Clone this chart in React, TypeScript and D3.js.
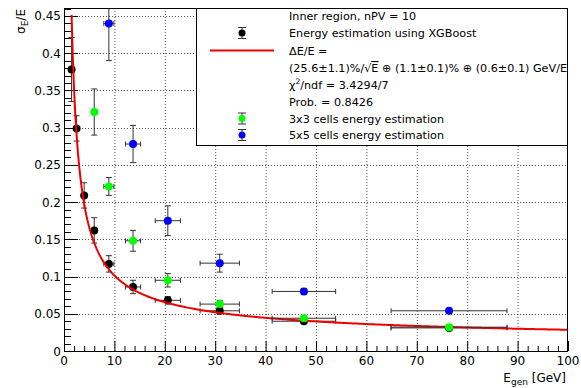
import React from 'react';
import * as d3 from 'd3';

// generated energy points (GeV) and their spread
const energies = [1.5, 2.5, 4, 6, 8.9, 13.7, 20.6, 30.9, 47.6, 76.4];
const energyErr = [0.15, 0.25, 0.4, 0.6, 1.0, 1.5, 2.5, 3.9, 6.3, 11.5];

// XGBoost energy resolution (black)
const resXgb = [0.378, 0.299, 0.209, 0.162, 0.117, 0.086, 0.068, 0.054, 0.040, 0.031];
const errXgb = [0.043, 0.017, 0.017, 0.017, 0.011, 0.009, 0.005, 0.004, 0.003, 0.002];

// 3x3 cells (green), starting at the 4th energy point
const res3x3 = [0.321, 0.221, 0.148, 0.095, 0.063, 0.044, 0.032];
const err3x3 = [0.031, 0.012, 0.014, 0.009, 0.005, 0.003, 0.002];

// 5x5 cells (blue), starting at the 5th energy point
const res5x5 = [0.44, 0.278, 0.175, 0.118, 0.080, 0.054];
const err5x5 = [0.05, 0.025, 0.02, 0.012, 0.004, 0.003];

// fit parameters: stochastic, constant, noise
const fitA = 0.256;
const fitB = 0.011;
const fitC = 0.6;

const xTicks = [0, 10, 20, 30, 40, 50, 60, 70, 80, 90, 100];
const yTicks = [0, 0.05, 0.1, 0.15, 0.2, 0.25, 0.3, 0.35, 0.4, 0.45];

const font = 'DejaVu Sans, sans-serif';

type Pt = { e: number; de: number; r: number; dr: number };

const makeSeries = (vals: number[], errs: number[], offset: number): Pt[] =>
  vals.map((r, i) => ({ e: energies[i + offset], de: energyErr[i + offset], r, dr: errs[i] }));

const App = () => {
  const width = 581;
  const height = 388;
  const margin = { top: 8, right: 13, bottom: 37, left: 64 };

  const x = d3.scaleLinear().domain([0, 100]).range([margin.left, width - margin.right]);
  const y = d3.scaleLinear().domain([0, 0.4607]).range([height - margin.bottom, margin.top]);

  const x0 = x(0);
  const x1 = x(100);
  const y0 = y(0);
  const y1 = margin.top;

  const black = makeSeries(resXgb, errXgb, 0);
  const green = makeSeries(res3x3, err3x3, 3);
  const blue = makeSeries(res5x5, err5x5, 4);

  const fitFn = (e: number) =>
    Math.sqrt((fitA / Math.sqrt(e)) ** 2 + fitB ** 2 + (fitC / e) ** 2);
  const fitLine = d3
    .line<number>()
    .x(e => x(e))
    .y(e => y(fitFn(e)));
  const fitPath = fitLine(d3.range(1.5, 100.01, 0.25));

  const xMinor = d3.range(0, 100.01, 2);
  const yMinor = d3.range(0, 0.4601, 0.01);

  const renderPoints = (pts: Pt[], color: string, key: string) => (
    <g key={key}>
      {pts.map((p, i) => {
        const cx = x(p.e);
        const cy = y(p.r);
        const ya = Math.max(y(p.r + p.dr), y1);
        const yb = y(p.r - p.dr);
        const xa = x(p.e - p.de);
        const xb = x(p.e + p.de);
        return (
          <g key={i} stroke="#333" strokeWidth={1}>
            <line x1={cx} x2={cx} y1={ya} y2={yb} />
            {y(p.r + p.dr) > y1 && <line x1={cx - 3} x2={cx + 3} y1={ya} y2={ya} />}
            <line x1={cx - 3} x2={cx + 3} y1={yb} y2={yb} />
            {xb - xa > 8 && (
              <>
                <line x1={xa} x2={xb} y1={cy} y2={cy} />
                <line x1={xa} x2={xa} y1={cy - 2.5} y2={cy + 2.5} />
                <line x1={xb} x2={xb} y1={cy - 2.5} y2={cy + 2.5} />
              </>
            )}
            <circle cx={cx} cy={cy} r={4} fill={color} stroke="none" />
          </g>
        );
      })}
    </g>
  );

  const legendX = 289;
  const legendRows = [15.5, 33, 50.5, 68, 85, 101.5, 118.5, 135];

  const legendMarker = (cy: number, color: string) => (
    <g stroke="#333" strokeWidth={1}>
      <line x1={242} x2={242} y1={cy - 5.5} y2={cy + 5.5} />
      <line x1={238} x2={246} y1={cy - 5.5} y2={cy - 5.5} />
      <line x1={238} x2={246} y1={cy + 5.5} y2={cy + 5.5} />
      <circle cx={242} cy={cy} r={3.5} fill={color} stroke="none" />
    </g>
  );

  return (
    <svg width={width} height={height} style={{ position: 'absolute', left: 0, top: 0 }}>
      <defs>
        <clipPath id="plotClip">
          <rect x={x0} y={y1} width={x1 - x0} height={y0 - y1} />
        </clipPath>
      </defs>
      <rect x={0} y={0} width={width} height={height} fill="#fff" />

      {/* grid */}
      <g stroke="#555" strokeWidth={1} strokeDasharray="1 2">
        {xTicks.slice(1, -1).map(t => (
          <line key={t} x1={x(t) + 0.5} x2={x(t) + 0.5} y1={y0} y2={y1} />
        ))}
        {yTicks.slice(1).map(t => (
          <line key={t} x1={x0} x2={x1} y1={Math.round(y(t)) + 0.5} y2={Math.round(y(t)) + 0.5} />
        ))}
      </g>

      {/* ticks */}
      <g stroke="#000" strokeWidth={1}>
        {xMinor.map(t => (
          <line key={'xm' + t} x1={x(t) + 0.5} x2={x(t) + 0.5} y1={y0} y2={y0 - (t % 10 === 0 ? 10 : 5)} />
        ))}
        {yMinor.map((t, i) => (
          <line
            key={'ym' + i}
            x1={x0}
            x2={x0 + (i % 5 === 0 ? 14 : 7)}
            y1={Math.round(y(t)) + 0.5}
            y2={Math.round(y(t)) + 0.5}
          />
        ))}
      </g>

      {/* data */}
      <g clipPath="url(#plotClip)">
        {renderPoints(black, '#000', 'black')}
        <path d={fitPath ?? ''} fill="none" stroke="#e00" strokeWidth={2} />
        {renderPoints(green, '#00ff00', 'green')}
        {renderPoints(blue, '#0000ff', 'blue')}
      </g>

      {/* frame */}
      <rect x={x0 + 0.5} y={y1 + 0.5} width={x1 - x0 - 1} height={y0 - y1} fill="none" stroke="#000" />

      {/* tick labels */}
      <g fontFamily={font} fontSize={12} fill="#000">
        {xTicks.map(t => (
          <text key={t} x={x(t)} y={365} textAnchor="middle">
            {t}
          </text>
        ))}
        {yTicks.map(t => (
          <text key={t} x={61} y={y(t) + 4.5} textAnchor="end">
            {t}
          </text>
        ))}
      </g>

      {/* axis titles */}
      <text x={566} y={382} textAnchor="end" fontFamily={font} fontSize={12}>
        E<tspan fontSize={9} dy={3}>gen</tspan>
        <tspan dy={-3}> [GeV]</tspan>
      </text>
      <text transform="translate(25,9) rotate(-90)" textAnchor="end" fontFamily={font} fontSize={12}>
        σ<tspan fontSize={9} dy={3}>E</tspan>
        <tspan dy={-3}>/E</tspan>
      </text>

      {/* legend */}
      <rect x={196.5} y={8.5} width={371} height={137} fill="#fff" stroke="#000" />
      {legendMarker(legendRows[1], '#000')}
      <line x1={210} x2={274} y1={legendRows[2]} y2={legendRows[2]} stroke="#e00" strokeWidth={2} />
      {legendMarker(legendRows[6], '#00ff00')}
      {legendMarker(legendRows[7], '#0000ff')}
      <g fontFamily={font} fontSize={11.2} fill="#000">
        <text x={legendX} y={legendRows[0] + 4}>Inner region, nPV = 10</text>
        <text x={legendX} y={legendRows[1] + 4}>Energy estimation using XGBoost</text>
        <text x={legendX} y={legendRows[2] + 4}>ΔE/E =</text>
        <text x={legendX} y={legendRows[3] + 4}>
          (25.6±1.1)%/√<tspan style={{ textDecoration: 'overline' }}>E</tspan> ⊕ (1.1±0.1)% ⊕ (0.6±0.1) GeV/E
        </text>
        <text x={legendX} y={legendRows[4] + 4}>
          χ<tspan fontSize={7.5} dy={-5}>2</tspan>
          <tspan dy={5}>/ndf = 3.4294/7</tspan>
        </text>
        <text x={legendX} y={legendRows[5] + 4}>Prob. = 0.8426</text>
        <text x={legendX} y={legendRows[6] + 4}>3x3 cells energy estimation</text>
        <text x={legendX} y={legendRows[7] + 4}>5x5 cells energy estimation</text>
      </g>
    </svg>
  );
};

export default App;
